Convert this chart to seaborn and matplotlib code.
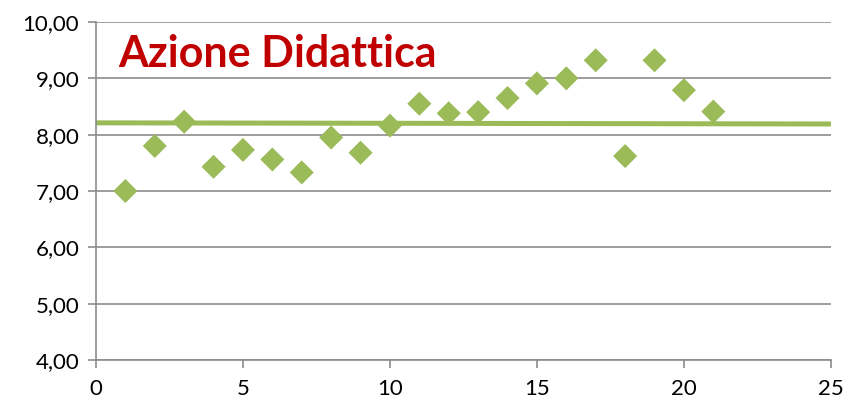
import numpy as np
import pandas as pd
import matplotlib
matplotlib.use("Agg")
import matplotlib.pyplot as plt
from matplotlib.ticker import FuncFormatter, MultipleLocator
import seaborn as sns

# ── Data ──
lesson = list(range(1, 22))
score = [7.00, 7.80, 8.23, 7.43, 7.73, 7.56, 7.33, 7.95, 7.68, 8.16, 8.55,
         8.38, 8.40, 8.65, 8.91, 9.00, 9.32, 7.62, 9.32, 8.79, 8.41]
trend_x = [0, 25]
trend_y = [8.21, 8.19]

df = pd.DataFrame({'x': lesson, 'y': score})
trend = pd.DataFrame({'x': trend_x, 'y': trend_y})

sns.set_theme(style='white')
plt.rcParams['font.family'] = ['Lato', 'DejaVu Sans']

fig = plt.figure(figsize=(8.47, 4.05), dpi=100)
ax = fig.add_axes([0.1133, 0.111, 0.8677, 0.8347])

GREEN = '#9BBB59'
sns.lineplot(data=trend, x='x', y='y', color=GREEN, linewidth=3.6, ax=ax, zorder=2)
sns.scatterplot(data=df, x='x', y='y', marker='D', s=150, color=GREEN,
                edgecolor='none', ax=ax, zorder=3)

ax.set_xlim(0, 25)
ax.set_ylim(4, 10)
ax.xaxis.set_major_locator(MultipleLocator(5))
ax.yaxis.set_major_locator(MultipleLocator(1))
ax.yaxis.set_major_formatter(FuncFormatter(lambda v, p: f'{v:.2f}'.replace('.', ',')))
ax.set_xlabel('')
ax.set_ylabel('')

ax.grid(axis='y', color='#8c8c8c', linewidth=1.2)
ax.set_axisbelow(True)
for side in ['top', 'right']:
    ax.spines[side].set_visible(False)
for side in ['left', 'bottom']:
    ax.spines[side].set_color('#8c8c8c')
    ax.spines[side].set_linewidth(1.2)
ax.tick_params(axis='both', direction='out', length=6, width=1.2,
               color='#8c8c8c', labelsize=16, labelcolor='black',
               bottom=True, left=True)
ax.tick_params(axis='x', pad=8)
ax.tick_params(axis='y', pad=6)

ax.text(0.03, 0.905, 'Azione Didattica', transform=ax.transAxes,
        color='#C00000', fontsize=31, fontweight='bold', va='center', ha='left')

fig.savefig('out.png', dpi=100, facecolor='white')
